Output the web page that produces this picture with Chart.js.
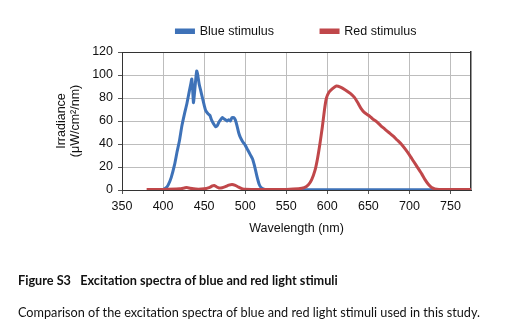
<!DOCTYPE html>
<html>
<head>
<meta charset="utf-8">
<script src="https://cdn.jsdelivr.net/npm/chart.js@4.4.1/dist/chart.umd.min.js"></script>
<style>
	body { margin: 0; background: #fff; }
	#wrap { position: relative; width: 528px; height: 335px; overflow: hidden; }
	#plot { position: absolute; left: 0; top: 0; }
	.cap { position: absolute; left: 18px; font-family: Lato, "Liberation Sans", sans-serif; color: #111; white-space: pre; }
	#capTitle { top: 272px; font-size: 12.7px; font-weight: bold; }
	#capText { top: 304px; font-size: 12.7px; }
</style>
</head>
<body>
<div id="wrap">
	<canvas id="plot" width="528" height="335"></canvas>
	<div class="cap" id="capTitle">Figure S3   Excitation spectra of blue and red light stimuli</div>
	<div class="cap" id="capText">Comparison of the excitation spectra of blue and red light stimuli used in this study.</div>
</div>
<script>
// wavelength (nm) and irradiance (uW/cm2/nm)
var blueNm  = [400, 403, 406, 410, 414, 417, 420, 423, 426, 429, 432, 434, 435, 436, 437, 438, 439.5, 441, 442, 444, 446, 448, 450, 452, 455, 457, 459, 462, 464, 466, 468, 470, 472, 474, 476, 478, 480, 482, 484, 486, 488, 490, 492, 494, 497, 500, 503, 506, 509, 511, 513, 515, 517, 519, 522, 526, 550, 600, 650, 700, 750, 775];
var blueIrr = [0.5, 1.5, 4, 11, 22, 33, 43, 56, 66, 75, 86, 93, 96.5, 88, 76, 82, 94, 103.5, 101, 92, 86, 80, 74, 69, 66, 65, 61, 57, 55, 56, 59, 61, 63, 62, 61, 60, 61, 60, 63, 63, 61, 56, 50, 46, 42, 39, 35, 31, 27, 22, 16, 10, 5, 2.5, 1, 0.4, 0.3, 0.3, 0.3, 0.3, 0.3, 0.3];

var redNm  = [380, 400, 420, 426, 429, 433, 440, 450, 456, 460, 462, 465, 468, 472, 476, 480, 484, 488, 492, 496, 500, 520, 550, 565, 572, 577, 581, 585, 588, 591, 594, 597, 599, 602, 606, 611, 616, 622, 628, 633, 637, 641, 645, 650, 655, 660, 665, 670, 675, 680, 685, 690, 695, 700, 705, 710, 715, 719, 723, 727, 731, 736, 750, 775];
var redIrr = [0.5, 0.5, 1, 1.8, 2.2, 1.5, 0.8, 1, 2, 3.5, 4, 2.8, 1.8, 2, 3, 4.2, 4.8, 4, 2.5, 1.2, 0.6, 0.4, 0.5, 1, 2, 4.5, 9, 17, 27, 40, 55, 72, 80, 85, 88, 90.5, 89.5, 87, 84, 80.5, 76, 71, 67.5, 65, 62, 59.5, 56, 53, 50, 47, 43.5, 40, 35.5, 30.5, 25, 19.5, 14, 9, 5, 2.2, 1, 0.5, 0.5, 0.5];

var xTicks = [350, 400, 450, 500, 550, 600, 650, 700, 750];
var yTicks = [0, 20, 40, 60, 80, 100, 120];

var toPoints = function(xs, ys){
	var pts = [];
	for (var i = 0; i < xs.length; i++) {
		pts.push({x: xs[i], y: ys[i]});
	};
	return pts;
}

var font = {family: '"Liberation Sans", Arial, sans-serif', size: 12.5};
var gridGrey = '#bdbdbd';
var frame = '#333';

var chart = new Chart(document.getElementById('plot').getContext('2d'), {
	type: 'line',
	data: {
		datasets: [
			{
				label: 'Blue stimulus',
				data: toPoints(blueNm, blueIrr),
				borderColor: '#3e72b8',
				backgroundColor: '#3e72b8',
				borderWidth: 3,
				pointRadius: 0,
				tension: 0.2,
				order: 1
			},
			{
				label: 'Red stimulus',
				data: toPoints(redNm, redIrr),
				borderColor: '#c0474a',
				backgroundColor: '#c0474a',
				borderWidth: 3,
				pointRadius: 0,
				tension: 0.2,
				order: 0
			}
		]
	},
	options: {
		responsive: false,
		animation: false,
		layout: {padding: {left: 54, right: 57, top: -22, bottom: 95}},
		plugins: {
			tooltip: {enabled: false},
			legend: {
				position: 'top',
				fullSize: false,
				labels: {
					font: font,
					color: '#111',
					boxWidth: 17,
					boxHeight: 2.5,
					padding: 47,
					sort: function(a, b){ return a.datasetIndex - b.datasetIndex; }
				}
			}
		},
		scales: {
			x: {
				type: 'linear',
				min: 350,
				max: 775,
				afterFit: function(s){ s.height = 50; },
				afterBuildTicks: function(s){ s.ticks = xTicks.map(function(v){ return {value: v}; }); },
				ticks: {font: font, color: '#111', padding: 5, includeBounds: false},
				grid: {
					color: function(c){ return c.tick && c.tick.value === 350 ? frame : gridGrey; },
					tickColor: '#555',
					tickLength: 4
				},
				border: {display: true, color: frame, width: 1},
				title: {display: true, text: 'Wavelength (nm)', font: font, color: '#111', padding: {top: 0, bottom: 4}}
			},
			xTop: {
				type: 'linear',
				position: 'top',
				display: true,
				afterFit: function(s){ s.height = 4.5; },
				ticks: {display: false},
				grid: {display: false},
				border: {display: false}
			},
			y: {
				type: 'linear',
				min: 0,
				max: 120,
				afterFit: function(s){ s.width = 68; },
				afterBuildTicks: function(s){ s.ticks = yTicks.map(function(v){ return {value: v}; }); },
				ticks: {font: font, color: '#111', padding: 5},
				grid: {
					color: function(c){ return c.tick && (c.tick.value === 120 || c.tick.value === 0) ? frame : gridGrey; },
					tickColor: '#555',
					tickLength: 4
				},
				border: {display: true, color: frame, width: 1},
				title: {
					display: true,
					text: ['Irradiance', '(\u03bcW/cm\u00b2/nm)'],
					font: {family: font.family, size: 12.5, lineHeight: 1.15},
					color: '#111',
					padding: {top: 0, bottom: 0}
				}
			},
			yRight: {
				type: 'linear',
				position: 'right',
				display: true,
				afterFit: function(s){ s.width = 0; },
				ticks: {display: false},
				grid: {display: false},
				border: {display: true, color: frame, width: 1.5}
			}
		}
	}
});
</script>
</body>
</html>
